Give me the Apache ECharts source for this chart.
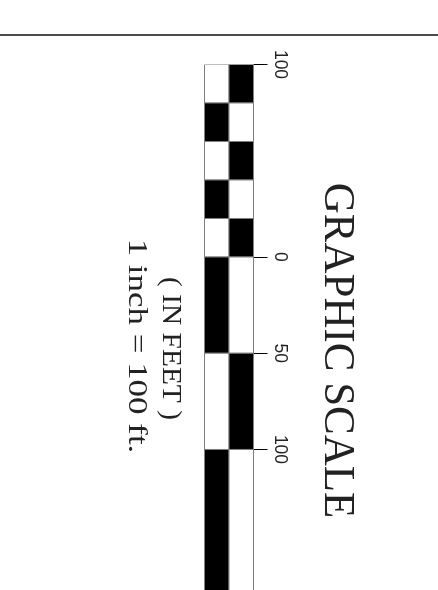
<!DOCTYPE html>
<html><head><meta charset="utf-8">
<script src="https://cdn.jsdelivr.net/npm/echarts@6/dist/echarts.min.js"></script>
<style>html,body{margin:0;padding:0;background:#fff}#c{width:438px;height:590px}</style>
</head><body><div id="c"></div>
<script>
// ---- data ----
const columns = ['left', 'right'];
const segStart = [-100, -80, -60, -40, -20, 0, 50, 100];
const segEnd = [-80, -60, -40, -20, 0, 50, 100, 200];
const leftBlack = [0, 1, 0, 1, 0, 1, 0, 1];
const rightBlack = [1, 0, 1, 0, 1, 0, 1, 0];
const tickValues = [-100, 0, 50, 100];
const tickLabels = ['100', '0', '50', '100'];
const titleText = 'GRAPHIC SCALE';
const unitText = '( IN FEET )';
const ratioText = '1 inch = 100 ft.';

const cells = [];
segStart.forEach(function (s, i) {
  cells.push([0, s, segEnd[i], leftBlack[i]]);
  cells.push([1, s, segEnd[i], rightBlack[i]]);
});

const chart = echarts.init(document.getElementById('c'));
chart.setOption({
  animation: false,
  backgroundColor: '#fff',
  grid: { left: 204.5, top: 64.5, width: 49, bottom: 0, containLabel: false, outerBoundsMode: 'none' },
  xAxis: { type: 'category', data: columns, show: false },
  yAxis: {
    type: 'value', inverse: true, min: -100, max: 173, position: 'right',
    splitLine: { show: false },
    axisLine: { show: false },
    axisTick: { show: true, customValues: tickValues, length: 14, lineStyle: { color: '#000', width: 1 } },
    axisLabel: {
      customValues: tickValues, rotate: -90, margin: 17,
      fontFamily: 'Liberation Sans', fontSize: 17.5, color: '#222',
      formatter: function (v) { const k = tickValues.indexOf(v); return k >= 0 ? tickLabels[k] : ''; }
    }
  },
  series: [{
    type: 'custom',
    clip: true,
    data: cells,
    renderItem: function (params, api) {
      const c = api.value(0);
      const p0 = api.coord([c, api.value(1)]);
      const p1 = api.coord([c, api.value(2)]);
      const w = api.size([1, 0])[0];
      return {
        type: 'rect',
        shape: { x: p0[0] - w / 2, y: Math.min(p0[1], p1[1]), width: w, height: Math.abs(p1[1] - p0[1]) },
        style: { fill: api.value(3) ? '#000' : '#fff', stroke: '#808080', lineWidth: 1 }
      };
    }
  }],
  graphic: [
    { type: 'line', shape: { x1: 0, y1: 35, x2: 438, y2: 35 }, style: { stroke: '#111', lineWidth: 1.3 } },
    { type: 'text', x: 336.7, y: 350.5, rotation: -Math.PI / 2, scaleX: 0.955,
      style: { text: titleText, fontFamily: 'Liberation Serif', fontSize: 45, fill: '#222', align: 'center', verticalAlign: 'middle' } },
    { type: 'text', x: 170, y: 348.5, rotation: -Math.PI / 2, scaleX: 1.05,
      style: { text: unitText, fontFamily: 'Liberation Serif', fontSize: 28, fill: '#222', align: 'center', verticalAlign: 'middle' } },
    { type: 'text', x: 136.7, y: 346, rotation: -Math.PI / 2, scaleX: 1.27,
      style: { text: ratioText, fontFamily: 'Liberation Serif', fontSize: 27.5, fill: '#222', align: 'center', verticalAlign: 'middle' } }
  ]
});
</script></body></html>
